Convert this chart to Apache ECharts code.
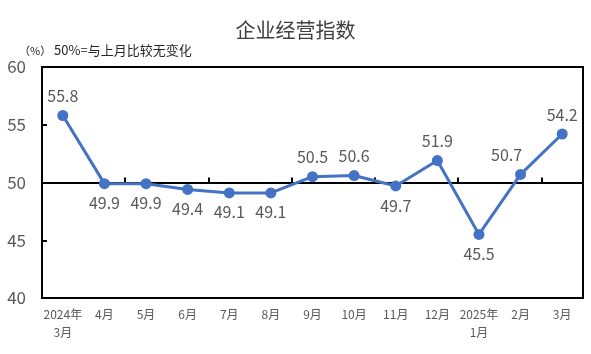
<!DOCTYPE html>
<html>
<head>
<meta charset="utf-8">
<script src="https://cdn.jsdelivr.net/npm/echarts@6/dist/echarts.min.js"></script>
<style>
html, body { margin: 0; padding: 0; background: #fff; }
#chart { width: 591px; height: 354px; }
</style>
</head>
<body>
<div id="chart"></div>
<script>
// 月份（换行处为两行标签）
const months = ['2024年\n3月', '4月', '5月', '6月', '7月', '8月', '9月', '10月', '11月', '12月', '2025年\n1月', '2月', '3月'];
// 企业经营指数
const values = [55.8, 49.9, 49.9, 49.4, 49.1, 49.1, 50.5, 50.6, 49.7, 51.9, 45.5, 50.7, 54.2];
// 标签在点的上方还是下方
const labelPos = ['top', 'bottom', 'bottom', 'bottom', 'bottom', 'bottom', 'top', 'top', 'bottom', 'top', 'bottom', 'top', 'top'];
const yTicks = [40, 45, 50, 55, 60];

const font = '"Noto Sans CJK SC", "Microsoft YaHei", sans-serif';
const mChart = echarts.init(document.getElementById('chart'));

const options = {
	animation: false,
	textStyle: { fontFamily: font },
	title: [
		{
			text: '企业经营指数',
			left: 'center',
			top: 15,
			textStyle: { fontSize: 20, fontWeight: 'normal', color: '#404040', fontFamily: font },
		},
		{
			text: '{u|（%）} 50%=与上月比较无变化',
			left: 14,
			top: 39,
			textStyle: {
				fontSize: 13,
				fontWeight: 'normal',
				color: '#262626',
				fontFamily: font,
				rich: { u: { fontSize: 11, color: '#262626', fontFamily: font } },
			},
		},
	],
	grid: {
		left: 42,
		right: 8,
		top: 67,
		bottom: 56,
		show: true,
		borderColor: '#000',
		borderWidth: 2,
	},
	xAxis: [
		{
			// 50 线及其刻度
			type: 'category',
			data: months,
			position: 'bottom',
			axisLine: { onZero: true, onZeroAxisIndex: 1, lineStyle: { color: '#000', width: 2 } },
			axisTick: { show: true, inside: true, length: 5, lineStyle: { color: '#000', width: 2 } },
			axisLabel: { show: false },
		},
		{
			// 底部标签
			type: 'category',
			data: months,
			position: 'bottom',
			axisLine: { show: false },
			axisTick: { show: false },
			axisLabel: { color: '#595959', fontSize: 12, lineHeight: 18, margin: 7, interval: 0 },
		},
	],
	yAxis: [
		{
			type: 'value',
			min: yTicks[0],
			max: yTicks[yTicks.length - 1],
			interval: 5,
			axisLine: { show: true, lineStyle: { color: '#000', width: 2 } },
			axisTick: { show: true, inside: true, length: 5, lineStyle: { color: '#000', width: 2 } },
			axisLabel: { color: '#595959', fontSize: 17, margin: 16 },
			splitLine: { show: false },
		},
		{
			// 辅助轴，0 对应 50
			type: 'value',
			min: -10,
			max: 10,
			show: false,
		},
	],
	series: [
		{
			type: 'line',
			xAxisIndex: 0,
			yAxisIndex: 0,
			data: values.map((v, i) => ({
				value: v,
				label: { position: labelPos[i], offset: i === 11 ? [-14, 0] : [0, 0] },
			})),
			symbol: 'circle',
			symbolSize: 11,
			lineStyle: { color: '#4472C4', width: 3 },
			itemStyle: { color: '#4472C4' },
			label: {
				show: true,
				color: '#595959',
				fontSize: 16,
				distance: 6,
				formatter: (p) => p.value.toFixed(1),
			},
		},
	],
};
mChart.setOption(options);
</script>
</body>
</html>
